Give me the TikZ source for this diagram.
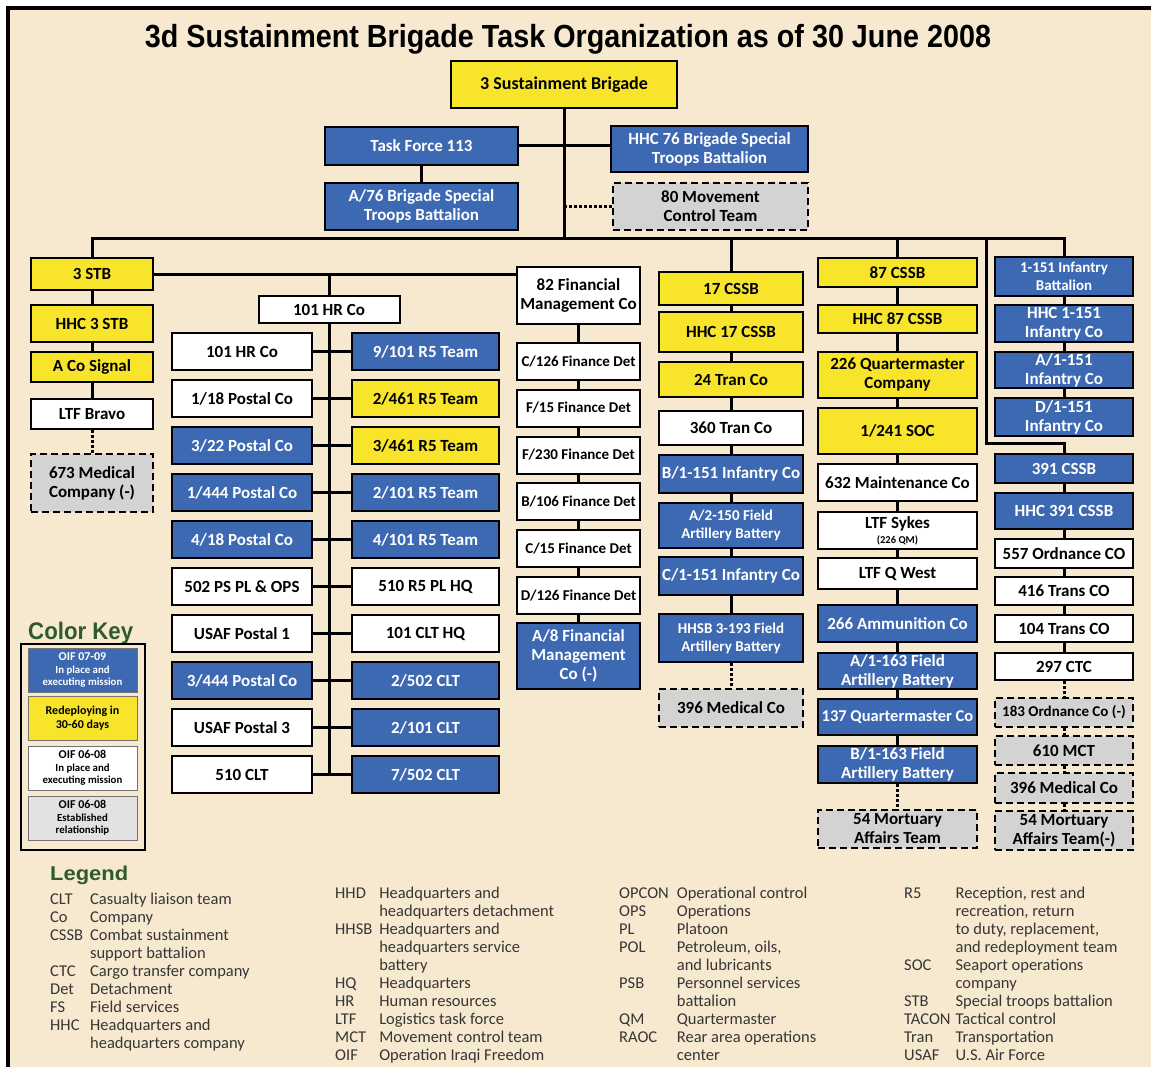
\documentclass[tikz,border=0pt]{standalone}
\usepackage{fontspec}
\usepackage{graphicx}
\setmainfont{Carlito}
\newfontfamily\headfont{Liberation Sans}
\definecolor{tanbg}{HTML}{F6E9CF}
\definecolor{unitblue}{HTML}{3D68B2}
\definecolor{unityellow}{HTML}{F8E42A}
\definecolor{unitgray}{HTML}{D3D3D1}
\definecolor{keygray}{HTML}{E2E2E0}
\definecolor{keygreen}{HTML}{2F5B2B}
\definecolor{legtext}{HTML}{363636}

\begin{document}
\begin{tikzpicture}[x=1pt,y=-1pt,
  ln/.style={line width=3pt},
  dotln/.style={line width=3pt, dash pattern=on 2.5pt off 2.5pt},
  bx/.style={draw=black, line width=2pt, inner sep=1pt, align=center,
    font=\bfseries\fontsize{17}{19}\selectfont},
  yb/.style={bx, fill=unityellow},
  bb/.style={bx, fill=unitblue, text=white},
  wb/.style={bx, fill=white},
  gb/.style={bx, fill=unitgray, line width=2.5pt, dash pattern=on 7pt off 4pt},
  sz/.style 2 args={minimum width=#1, minimum height=#2},
  small/.style={font=\bfseries\fontsize{15}{18}\selectfont},
  keyb/.style={draw=black!55, line width=1pt, sz={109}{44}, inner sep=0pt, align=center,
    font=\bfseries\fontsize{12}{12.5}\selectfont},
  legcol/.style={anchor=base west, inner sep=0pt, text=legtext,
    font=\fontsize{16.5}{18}\selectfont}
]
\newcommand\keyline[1]{{\fontsize{10.8}{12}\selectfont #1}}
\useasboundingbox (0,0) rectangle (1151,1070);
% page frame
\fill[white] (0,0) rectangle (1151,1070);
\fill[tanbg] (8,8) rectangle (1151,1067);
\draw[line width=4pt] (8,1067) -- (8,8) -- (1151,8);

% title
\node[inner sep=0pt, anchor=base] (title) at (568,48)
  {\resizebox{846pt}{\height}{\headfont\bfseries\fontsize{32}{33}\selectfont 3d Sustainment Brigade Task Organization as of 30 June 2008}};

% brigade headquarters and directly attached units
\node[yb, sz={226}{47}, font=\bfseries\fontsize{18}{19}\selectfont] (brig) at (564,84.5) {3 Sustainment Brigade};
\node[bb, sz={193}{38}] (tf113) at (421.5,146) {Task Force 113};
\node[bb, sz={197}{46}] (hhc76) at (709.5,149) {HHC 76 Brigade Special\\Troops Battalion};
\node[bb, sz={193}{47}] (a76) at (421.5,206.5) {A/76 Brigade Special\\Troops Battalion};
\node[gb, sz={195}{47}] (mct80) at (710.5,206.5) {80 Movement\\Control Team};

% 3 STB column
\node[yb, sz={122}{32}] (stb) at (92,274) {3 STB};
\node[yb, sz={122}{37}] (hhc3) at (92,323.5) {HHC 3 STB};
\node[yb, sz={122}{30}] (acosig) at (92,367) {A Co Signal};
\node[wb, sz={122}{30}] (ltfb) at (92,414) {LTF Bravo};
\node[gb, sz={122}{58}] (med673) at (92,483) {673 Medical\\Company (-)};

% 101 HR Co group
\node[wb, sz={141}{27}] (hrtop) at (329,309.5) {101 HR Co};
\node[wb, sz={140}{37}] (L1) at (242,351.5) {101 HR Co};
\node[wb, sz={140}{37}] (L2) at (242,398.5) {1/18 Postal Co};
\node[bb, sz={140}{37}] (L3) at (242,445.5) {3/22 Postal Co};
\node[bb, sz={140}{37}] (L4) at (242,492.5) {1/444 Postal Co};
\node[bb, sz={140}{37}] (L5) at (242,539.5) {4/18 Postal Co};
\node[wb, sz={140}{37}] (L6) at (242,586.5) {502 PS PL \& OPS};
\node[wb, sz={140}{37}] (L7) at (242,633.5) {USAF Postal 1};
\node[bb, sz={140}{37}] (L8) at (242,680.5) {3/444 Postal Co};
\node[wb, sz={140}{37}] (L9) at (242,727.5) {USAF Postal 3};
\node[wb, sz={140}{37}] (L10) at (242,774.5) {510 CLT};
\node[bb, sz={147}{37}] (R1) at (425.5,351.5) {9/101 R5 Team};
\node[yb, sz={147}{37}] (R2) at (425.5,398.5) {2/461 R5 Team};
\node[yb, sz={147}{37}] (R3) at (425.5,445.5) {3/461 R5 Team};
\node[bb, sz={147}{37}] (R4) at (425.5,492.5) {2/101 R5 Team};
\node[bb, sz={147}{37}] (R5) at (425.5,539.5) {4/101 R5 Team};
\node[wb, sz={147}{37}] (R6) at (425.5,586.5) {510 R5 PL HQ};
\node[wb, sz={147}{37}] (R7) at (425.5,633.5) {101 CLT HQ};
\node[bb, sz={147}{37}] (R8) at (425.5,680.5) {2/502 CLT};
\node[bb, sz={147}{37}] (R9) at (425.5,727.5) {2/101 CLT};
\node[bb, sz={147}{37}] (R10) at (425.5,774.5) {7/502 CLT};

% finance column
\node[wb, sz={123}{57}] (fin82) at (578.5,295.5) {82 Financial\\Management Co};
\node[wb, small, sz={123}{37}] (c126) at (578.5,361.5) {C/126 Finance Det};
\node[wb, small, sz={123}{37}] (f15) at (578.5,408) {F/15 Finance Det};
\node[wb, small, sz={123}{37}] (f230) at (578.5,455) {F/230 Finance Det};
\node[wb, small, sz={123}{37}] (b106) at (578.5,501.5) {B/106 Finance Det};
\node[wb, small, sz={123}{37}] (c15) at (578.5,548.5) {C/15 Finance Det};
\node[wb, small, sz={123}{37}] (d126) at (578.5,595.5) {D/126 Finance Det};
\node[bb, sz={123}{66}] (a8) at (578.5,656) {A/8 Financial\\Management\\Co (-)};

% 17 CSSB column
\node[yb, sz={144}{33}] (c17) at (731,288.5) {17 CSSB};
\node[yb, sz={144}{40}] (hhc17) at (731,332) {HHC 17 CSSB};
\node[yb, sz={144}{35}] (tran24) at (731,379.5) {24 Tran Co};
\node[wb, sz={144}{34}] (tran360) at (731,428) {360 Tran Co};
\node[bb, sz={144}{38}] (b151) at (731,474) {B/1-151 Infantry Co};
\node[bb, small, sz={144}{45}] (a2150) at (731,525.5) {A/2-150 Field\\Artillery Battery};
\node[bb, sz={144}{38}] (c151) at (731,576) {C/1-151 Infantry Co};
\node[bb, small, sz={144}{48}] (hhsb) at (731,638) {HHSB 3-193 Field\\Artillery Battery};
\node[gb, sz={144}{38}] (med396a) at (731,708) {396 Medical Co};

% 87 CSSB column
\node[yb, sz={159}{29}] (c87) at (897.5,272.5) {87 CSSB};
\node[yb, sz={159}{28}] (hhc87) at (897.5,319) {HHC 87 CSSB};
\node[yb, sz={159}{46}] (qm226) at (897.5,375) {226 Quartermaster\\Company};
\node[yb, sz={159}{46}] (soc) at (897.5,431) {1/241 SOC};
\node[wb, sz={159}{37}] (maint632) at (897.5,482.5) {632 Maintenance Co};
\node[wb, sz={159}{37}] (sykes) at (897.5,530.5) {LTF Sykes\\[-4pt]{\fontsize{10.5}{11}\selectfont (226 QM)}};
\node[wb, sz={159}{31}] (qwest) at (897.5,573.5) {LTF Q West};
\node[bb, sz={159}{37}] (ammo266) at (897.5,623.5) {266 Ammunition Co};
\node[bb, sz={159}{36}] (a163) at (897.5,671) {A/1-163 Field\\Artillery Battery};
\node[bb, sz={159}{36}, font=\bfseries\fontsize{16.5}{19}\selectfont] (qm137) at (897.5,717) {137 Quartermaster Co};
\node[bb, sz={159}{37}] (b163) at (897.5,764.5) {B/1-163 Field\\Artillery Battery};
\node[gb, sz={159}{38}] (mort54a) at (897.5,829) {54 Mortuary\\Affairs Team};

% 1-151 Infantry and 391 CSSB column
\node[bb, small, sz={138}{39}] (inf151) at (1064,276.5) {1-151 Infantry\\Battalion};
\node[bb, sz={138}{37}] (hhc151) at (1064,323.5) {HHC 1-151\\Infantry Co};
\node[bb, sz={138}{36}] (a151) at (1064,370) {A/1-151\\Infantry Co};
\node[bb, sz={138}{38}] (d151) at (1064,417) {D/1-151\\Infantry Co};
\node[bb, sz={138}{29}] (c391) at (1064,468.5) {391 CSSB};
\node[bb, sz={138}{36}] (hhc391) at (1064,511) {HHC 391 CSSB};
\node[wb, sz={138}{29}] (ord557) at (1064,553.5) {557 Ordnance CO};
\node[wb, sz={138}{28}] (tr416) at (1064,591) {416 Trans CO};
\node[wb, sz={138}{27}] (tr104) at (1064,628.5) {104 Trans CO};
\node[wb, sz={138}{27}] (ctc297) at (1064,666.5) {297 CTC};
\node[gb, small, sz={138}{29}] (ord183) at (1064,712.5) {183 Ordnance Co (-)};
\node[gb, sz={138}{29}] (mct610) at (1064,750.5) {610 MCT};
\node[gb, sz={138}{30}] (med396b) at (1064,788) {396 Medical Co};
\node[gb, sz={138}{39}] (mort54b) at (1064,830.5) {54 Mortuary\\Affairs Team(-)};

% connectors: brigade level
\coordinate (bus) at (565,238);
\coordinate (jog) at (986,443);
\draw[ln] (brig.south) -- (brig.south |- bus);
\draw[ln] (tf113.east) -- (tf113.east -| hhc76.west);
\draw[ln] (tf113.south) -- (a76.north);
\draw[dotln] (mct80.west) -- (mct80.west -| brig.south);
\draw[ln] (stb.north) -- (stb.north |- bus) -- (inf151.north |- bus) -- (inf151.north);
\draw[ln] (c17.north) -- (c17.north |- bus);
\draw[ln] (c87.north) -- (c87.north |- bus);
\draw[ln] (jog |- bus) -- (jog) -- (jog -| c391.north) -- (c391.north);

% connectors: 3 STB and HR group
\draw[ln] (stb.east) -- (stb.east -| fin82.west);
\draw[ln] (hrtop.north) -- (hrtop.north |- stb.east);
\draw[ln] (hrtop.south) -- (hrtop.south |- L10.east);
\foreach \i in {1,...,10} \draw[ln] (L\i.east) -- (R\i.west);

% connectors: columns
\foreach \a/\b in {stb/hhc3, hhc3/acosig, acosig/ltfb,
    fin82/c126, c126/f15, f15/f230, f230/b106, b106/c15, c15/d126, d126/a8,
    c17/hhc17, hhc17/tran24, tran24/tran360, tran360/b151, b151/a2150, a2150/c151, c151/hhsb,
    c87/hhc87, hhc87/qm226, qm226/soc, soc/maint632, maint632/sykes, sykes/qwest,
    qwest/ammo266, ammo266/a163, a163/qm137, qm137/b163,
    inf151/hhc151, hhc151/a151, a151/d151,
    c391/hhc391, hhc391/ord557, ord557/tr416, tr416/tr104, tr104/ctc297}
  \draw[ln] (\a.south) -- (\b.north);
\foreach \a/\b in {ltfb/med673, hhsb/med396a, b163/mort54a,
    ctc297/ord183, ord183/mct610, mct610/med396b, med396b/mort54b}
  \draw[dotln] (\a.south) -- (\b.north);

% colour key
\node[anchor=base west, inner sep=0pt, text=keygreen] (keytitle) at (28,639)
  {\resizebox{105pt}{\height}{\headfont\bfseries\fontsize{24}{25}\selectfont Color Key}};
\node[draw, line width=2pt, sz={124}{206}, inner sep=0pt] (keyframe) at (83,747) {};
\node[keyb, fill=unitblue, text=white] (key1) at (82.5,670) {OIF 07-09\\\keyline{In place and}\\\keyline{executing mission}};
\node[keyb, fill=unityellow] (key2) at (82.5,718) {Redeploying in\\[1pt]30-60 days};
\node[keyb, fill=white] (key3) at (82.5,768) {OIF 06-08\\\keyline{In place and}\\\keyline{executing mission}};
\node[keyb, fill=keygray] (key4) at (82.5,818) {OIF 06-08\\\keyline{Established}\\\keyline{relationship}};

% abbreviation legend
\node[anchor=base west, inner sep=0pt, text=keygreen] (legtitle) at (50,880)
  {\resizebox{78pt}{\height}{\headfont\bfseries\fontsize{20}{21}\selectfont Legend}};
\node[legcol] (leg1) at (50,904) {\begin{tabular}[t]{@{}l@{\hspace{7pt}}l@{}}
CLT & Casualty liaison team\\
Co & Company\\
CSSB & Combat sustainment\\
 & support battalion\\
CTC & Cargo transfer company\\
Det & Detachment\\
FS & Field services\\
HHC & Headquarters and\\
 & headquarters company
\end{tabular}};
\node[legcol] (leg2) at (335,898) {\begin{tabular}[t]{@{}l@{\hspace{7pt}}l@{}}
HHD & Headquarters and\\
 & headquarters detachment\\
HHSB & Headquarters and\\
 & headquarters service\\
 & battery\\
HQ & Headquarters\\
HR & Human resources\\
LTF & Logistics task force\\
MCT & Movement control team\\
OIF & Operation Iraqi Freedom
\end{tabular}};
\node[legcol] (leg3) at (619,898) {\begin{tabular}[t]{@{}l@{\hspace{8pt}}l@{}}
OPCON & Operational control\\
OPS & Operations\\
PL & Platoon\\
POL & Petroleum, oils,\\
 & and lubricants\\
PSB & Personnel services\\
 & battalion\\
QM & Quartermaster\\
RAOC & Rear area operations\\
 & center
\end{tabular}};
\node[legcol] (leg4) at (904,898) {\begin{tabular}[t]{@{}l@{\hspace{5pt}}l@{}}
R5 & Reception, rest and\\
 & recreation, return\\
 & to duty, replacement,\\
 & and redeployment team\\
SOC & Seaport operations\\
 & company\\
STB & Special troops battalion\\
TACON & Tactical control\\
Tran & Transportation\\
USAF & U.S. Air Force
\end{tabular}};
\end{tikzpicture}
\end{document}
